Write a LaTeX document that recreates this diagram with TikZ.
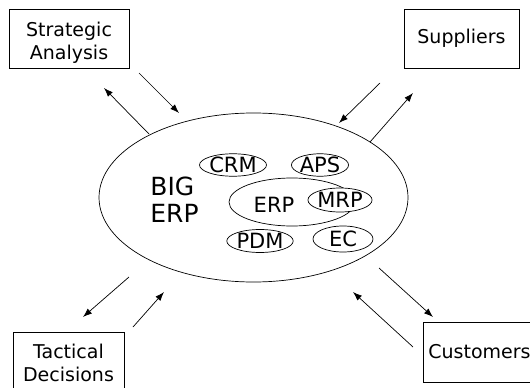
\documentclass[tikz,border=0pt]{standalone}
\usepackage{fontspec}
\setmainfont{DejaVu Sans}
\usetikzlibrary{shapes.geometric,arrows.meta}
\begin{document}
\begin{tikzpicture}[x=1pt,y=-1pt,line width=0.7pt,
  box/.style={draw, rectangle, inner sep=0pt, align=center,
    font=\fontsize{19}{23}\selectfont},
  module/.style={draw, ellipse, inner sep=0pt,
    font=\fontsize{21}{24}\selectfont},
  word/.style={inner sep=0pt, anchor=base},
  flow/.style={-{Latex[length=9pt,width=6.5pt]}, line width=0.7pt}]
\useasboundingbox (0,0) rectangle (530,388);

% outer partner boxes
\node[box, minimum width=120pt, minimum height=59pt] (strat) at (69,38.5)
  {\rule{0pt}{22pt}Strategic\\Analysis};
\node[box, minimum width=115pt, minimum height=59pt] (supp) at (461.5,38.5) {Suppliers};
\node[box, minimum width=111pt, minimum height=62pt] (tact) at (68.5,363) {Tactical\\Decisions};
\node[box, anchor=west, inner xsep=5pt, text width=112pt, align=left,
      minimum height=60pt] (cust) at (423,352) {Customers};

% the big ERP system
\node[draw, ellipse, minimum width=309pt, minimum height=169pt, inner sep=0pt] (big) at (253.5,197.5) {};
\node[word, anchor=base west, font=\fontsize{25}{27}\selectfont] (bigtxt) at (150,195) {BIG};
\node[word, anchor=base west, font=\fontsize{25}{27}\selectfont] (bigtxt2) at (150,222) {ERP};

% modules inside
\node[draw, ellipse, minimum width=126pt, minimum height=48pt, inner sep=0pt] (core) at (292,202) {};
\node[word, font=\fontsize{21}{24}\selectfont] (coretxt) at (274,212) {ERP};
\node[module, minimum width=60pt, minimum height=20pt] (crm) at (233,165) {CRM};
\node[module, minimum width=52pt, minimum height=20pt] (aps) at (320,165) {APS};
\node[module, minimum width=60pt, minimum height=24pt, fill=white] (mrp) at (340,200) {MRP};
\node[module, minimum width=58pt, minimum height=23pt] (pdm) at (260,241) {PDM};
\node[module, minimum width=60pt, minimum height=26pt] (ec) at (343,239) {EC};

% flow end points
\coordinate (s1) at (149,134); \coordinate (s2) at (104,88);
\coordinate (s3) at (139,73);  \coordinate (s4) at (179,113);
\coordinate (p1) at (380,83);  \coordinate (p2) at (339,123);
\coordinate (p3) at (370,142); \coordinate (p4) at (413,93);
\coordinate (t1) at (129,277); \coordinate (t2) at (83,317);
\coordinate (t3) at (133,327); \coordinate (t4) at (164,292);
\coordinate (c1) at (379,268); \coordinate (c2) at (433,317);
\coordinate (c3) at (413,347); \coordinate (c4) at (353,292);

\draw[flow] (s1) -- (s2);
\draw[flow] (s3) -- (s4);
\draw[flow] (p1) -- (p2);
\draw[flow] (p3) -- (p4);
\draw[flow] (t1) -- (t2);
\draw[flow] (t3) -- (t4);
\draw[flow] (c1) -- (c2);
\draw[flow] (c3) -- (c4);
\end{tikzpicture}
\end{document}
